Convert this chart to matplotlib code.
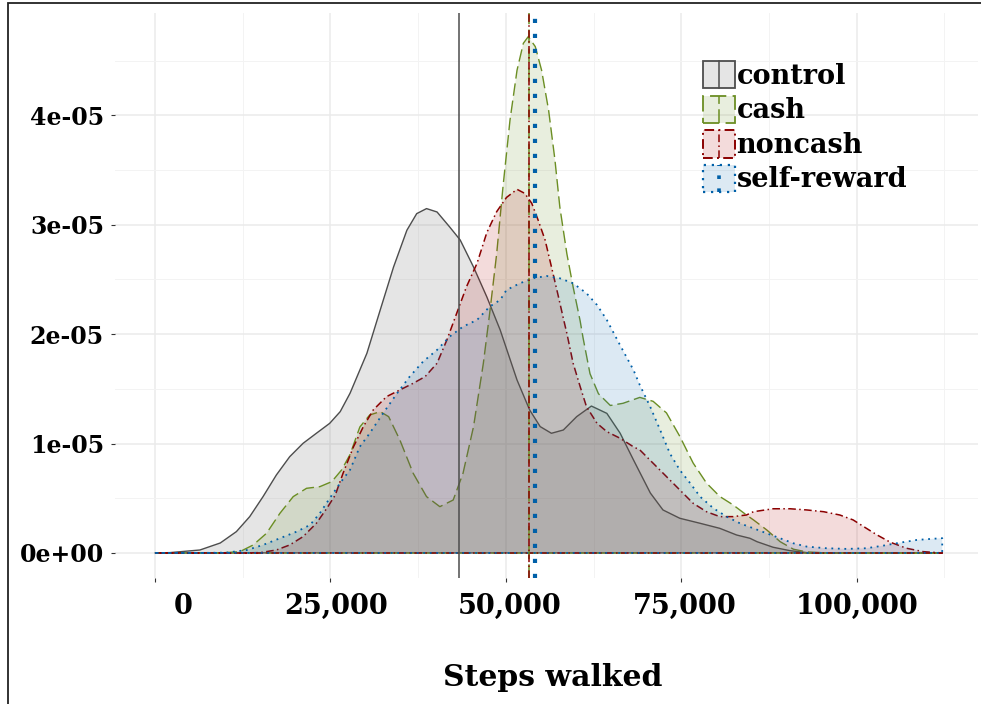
import matplotlib
matplotlib.use("Agg")
import matplotlib.pyplot as plt
import numpy as np
from matplotlib.patches import Polygon, Rectangle
from matplotlib.lines import Line2D
from matplotlib.legend_handler import HandlerBase
from matplotlib.colors import to_rgba
from matplotlib.transforms import ScaledTranslation
from matplotlib.ticker import FixedLocator, FixedFormatter

plt.rcParams["font.family"] = ["DejaVu Serif"]
plt.rcParams["font.weight"] = "bold"

# ---- data: kernel density of daily steps per group (density in units of 1e-5) ----
groups = ["control", "cash", "noncash", "self-reward"]

control_steps = [0, 2100, 6400, 9300, 11600, 13500, 15400, 17300, 19200, 21100,
                 23000, 24900, 26400, 27800, 30200, 32100, 34000, 35900, 37300, 38700,
                 40200, 42000, 43500, 45400, 47300, 49200, 51600, 53400, 54900, 56500,
                 58200, 60100, 62200, 64400, 66300, 68200, 70600, 72400, 74800, 77700,
                 80500, 82900, 84800, 85800, 88100, 90500, 92900, 96200, 112200]
control_dens = [0, 0.003, 0.027, 0.091, 0.195, 0.332, 0.515, 0.713, 0.880, 1.002,
                1.094, 1.185, 1.292, 1.460, 1.825, 2.221, 2.614, 2.950, 3.102, 3.148,
                3.117, 2.980, 2.861, 2.614, 2.340, 2.038, 1.581, 1.307, 1.155, 1.094,
                1.124, 1.246, 1.343, 1.276, 1.094, 0.850, 0.548, 0.393, 0.317, 0.271,
                0.225, 0.164, 0.134, 0.103, 0.052, 0.021, 0.003, 0, 0]

cash_steps = [0, 9300, 12100, 14000, 15900, 17800, 19700, 21600, 23500, 25200,
              26600, 27800, 29200, 30600, 32100, 33300, 34900, 36800, 38700, 40600,
              42500, 43900, 45400, 46800, 47700, 48700, 49600, 50600, 51600, 52500,
              53200, 54200, 55100, 56100, 57000, 57700, 58700, 59600, 60600, 61000,
              62000, 63200, 64900, 66700, 69100, 71000, 72900, 74800, 76700, 78600,
              80500, 82400, 84300, 85300, 87200, 89100, 91000, 92900, 96200, 112200]
cash_dens = [0, 0, 0.012, 0.073, 0.180, 0.362, 0.515, 0.591, 0.606, 0.652,
             0.759, 0.900, 1.152, 1.261, 1.292, 1.246, 1.033, 0.728, 0.515, 0.423,
             0.484, 0.728, 1.155, 1.734, 2.191, 2.736, 3.348, 3.958, 4.413, 4.659,
             4.720, 4.629, 4.413, 4.047, 3.595, 3.163, 2.736, 2.430, 2.120, 1.970,
             1.639, 1.456, 1.348, 1.368, 1.422, 1.386, 1.280, 1.066, 0.822, 0.639,
             0.516, 0.439, 0.347, 0.302, 0.210, 0.103, 0.034, 0.009, 0, 0]

noncash_steps = [0, 12100, 15000, 17300, 19200, 21100, 23000, 24500, 25700, 26800,
                 28300, 29700, 31100, 33000, 34900, 36800, 38500, 40200, 41600, 43000,
                 44400, 45900, 47300, 48700, 50100, 51600, 52700, 53700, 54600, 55600,
                 56500, 57500, 58200, 58700, 59600, 60600, 61500, 63000, 64400, 66300,
                 68200, 69100, 71000, 72900, 74800, 76700, 78600, 80500, 82400, 84300,
                 85300, 88100, 90500, 92900, 95300, 97600, 99500, 101000, 102900, 104800,
                 107100, 109500, 112200]
noncash_dens = [0, 0, 0.003, 0.027, 0.073, 0.149, 0.271, 0.409, 0.530, 0.728,
                0.972, 1.155, 1.307, 1.429, 1.490, 1.551, 1.612, 1.734, 1.947, 2.191,
                2.434, 2.648, 2.930, 3.120, 3.250, 3.324, 3.287, 3.196, 3.044, 2.861,
                2.617, 2.343, 2.145, 2.008, 1.733, 1.520, 1.337, 1.185, 1.109, 1.048,
                0.970, 0.942, 0.820, 0.698, 0.576, 0.454, 0.377, 0.332, 0.332, 0.347,
                0.377, 0.404, 0.404, 0.393, 0.377, 0.347, 0.302, 0.241, 0.165, 0.098,
                0.043, 0.012, 0]

self_steps = [0, 6400, 10200, 13100, 15400, 17800, 20200, 22100, 23500, 24900,
              26400, 27800, 29200, 30600, 32500, 34500, 36300, 38200, 40200, 42000,
              43900, 45900, 47700, 49200, 50100, 52000, 53900, 55800, 57700, 59600,
              61500, 63000, 64400, 66300, 68200, 69100, 70600, 72000, 73400, 74800,
              76300, 77700, 79600, 81500, 83400, 85300, 87200, 89100, 91000, 92900,
              95700, 98600, 101400, 103800, 106200, 108600, 110500, 112200]
self_dens = [0, 0, 0.003, 0.027, 0.073, 0.134, 0.195, 0.256, 0.363, 0.500,
             0.640, 0.760, 0.972, 1.094, 1.276, 1.459, 1.612, 1.749, 1.856, 1.978,
             2.069, 2.130, 2.252, 2.313, 2.404, 2.465, 2.511, 2.532, 2.511, 2.465,
             2.374, 2.267, 2.130, 1.898, 1.672, 1.535, 1.334, 1.124, 0.908, 0.758,
             0.636, 0.514, 0.408, 0.331, 0.270, 0.225, 0.179, 0.134, 0.088, 0.058,
             0.043, 0.037, 0.043, 0.067, 0.094, 0.119, 0.128, 0.135]

# group means (vertical reference lines)
group_means = [43300, 53250, 53300, 54150]

x_ticks = [0, 25000, 50000, 75000, 100000]
x_tick_labels = ["0", "25,000", "50,000", "75,000", "100,000"]
y_ticks = [0, 1e-5, 2e-5, 3e-5, 4e-5]
y_tick_labels = ["0e+00", "1e-05", "2e-05", "3e-05", "4e-05"]

# ---- styles ----
line_colors = ["#4d4d4d", "#6b8e23", "#8b0000", "#0060a8"]
fill_colors = [to_rgba("#808080", 0.20), to_rgba("#6b8e23", 0.15),
               to_rgba("#b01010", 0.15), to_rgba("#1a6fb5", 0.15)]
curve_styles = ["-", (0, (9, 3.5)), (0, (5, 2.2, 1, 2.2)), (0, (1, 2.6))]
curve_widths = [1.0, 1.0, 1.1, 1.3]
vline_styles = ["-", (0, (9, 3.5)), (0, (5, 2.2, 1, 2.2)), (0, (1, 2.6))]
vline_widths = [1.1, 1.1, 1.1, 3.0]

series = [(control_steps, control_dens), (cash_steps, cash_dens),
          (noncash_steps, noncash_dens), (self_steps, self_dens)]

W, H = 981, 704
fig = plt.figure(figsize=(W / 100, H / 100), dpi=100)
ax = fig.add_axes([115 / W, 1 - 578 / H, (978 - 115) / W, (578 - 13) / H])
ax.set_facecolor("white")

for i, (xs, ds) in enumerate(series):
    xs = np.asarray(xs, dtype=float)
    ys = np.asarray(ds, dtype=float) * 1e-5
    verts = list(zip(xs, ys)) + [(xs[-1], 0.0), (xs[0], 0.0)]
    poly = Polygon(verts, closed=True, facecolor=fill_colors[i],
                   edgecolor=line_colors[i], linewidth=curve_widths[i],
                   linestyle=curve_styles[i], joinstyle="round", zorder=2 + i * 0.1)
    ax.add_patch(poly)

for i, m in enumerate(group_means):
    ax.axvline(m, color=line_colors[i], linestyle=vline_styles[i],
               linewidth=vline_widths[i], zorder=3 + i * 0.1,
               dash_capstyle="butt")

ax.set_xlim(-5700, 117300)
ax.set_ylim(-2.29e-6, 4.936e-5)

ax.xaxis.set_major_locator(FixedLocator(x_ticks))
ax.xaxis.set_major_formatter(FixedFormatter(x_tick_labels))
ax.yaxis.set_major_locator(FixedLocator(y_ticks))
ax.yaxis.set_major_formatter(FixedFormatter(y_tick_labels))
ax.xaxis.set_minor_locator(FixedLocator([12500, 37500, 62500, 87500, 112500]))
ax.yaxis.set_minor_locator(FixedLocator([0.5e-5, 1.5e-5, 2.5e-5, 3.5e-5, 4.5e-5]))

ax.set_axisbelow(True)
ax.grid(which="major", color="#ebebeb", linewidth=1.1)
ax.grid(which="minor", color="#f3f3f3", linewidth=0.7)
for s in ax.spines.values():
    s.set_visible(False)

ax.tick_params(axis="both", which="major", length=3, width=0.8, color="#333333",
               labelcolor="black")
ax.tick_params(axis="x", which="major", labelsize=19.5, pad=8)
ax.tick_params(axis="y", which="major", labelsize=17, pad=5)
ax.tick_params(which="minor", length=0)

ax.set_xlabel("Steps walked", fontsize=21.5, fontweight="bold", labelpad=31)


class GroupKey:
    def __init__(self, i):
        self.i = i


class GroupKeyHandler(HandlerBase):
    def create_artists(self, legend, orig_handle, xdescent, ydescent, width,
                       height, fontsize, trans):
        i = orig_handle.i
        x0, y0 = -xdescent, -ydescent
        rect = Rectangle((x0, y0), width, height, facecolor=fill_colors[i],
                         edgecolor=line_colors[i], linewidth=curve_widths[i] + 0.3,
                         linestyle=curve_styles[i], transform=trans)
        cx = x0 + width / 2
        vl = Line2D([cx, cx], [y0, y0 + height], color=line_colors[i],
                    linestyle=vline_styles[i],
                    linewidth=vline_widths[i] if i < 3 else 2.6,
                    dash_capstyle="butt", transform=trans)
        return [rect, vl]


keys = [GroupKey(i) for i in range(len(groups))]
leg = fig.legend(keys, groups, handler_map={GroupKey: GroupKeyHandler()},
                 loc="upper left", bbox_to_anchor=(703 / W, 1 - 61 / H),
                 bbox_transform=fig.transFigure, frameon=False, borderpad=0,
                 borderaxespad=0, handlelength=1.18,
                 handleheight=1.18, labelspacing=0.21, handletextpad=0.06,
                 prop={"weight": "bold", "size": 19.5})

# frame around the whole figure (top and left edges visible)
fig.patches.append(Rectangle((8 / W, -0.05), 1.2, 1 - 3 / H + 0.05,
                             transform=fig.transFigure, fill=False,
                             edgecolor="#222222", linewidth=1.3, zorder=10))

# nudge x tick labels and axis title the way the axis lays them out
x_label_shift_px = [28, 6, 4, 4, 0]
fig.canvas.draw()
for lbl, dx in zip(ax.xaxis.get_majorticklabels(), x_label_shift_px):
    lbl.set_transform(lbl.get_transform() +
                      ScaledTranslation(dx / 100, 0, fig.dpi_scale_trans))
ax.xaxis.label.set_transform(ax.xaxis.label.get_transform() +
                             ScaledTranslation(6 / 100, 0, fig.dpi_scale_trans))

fig.savefig("out.png", dpi=100)
